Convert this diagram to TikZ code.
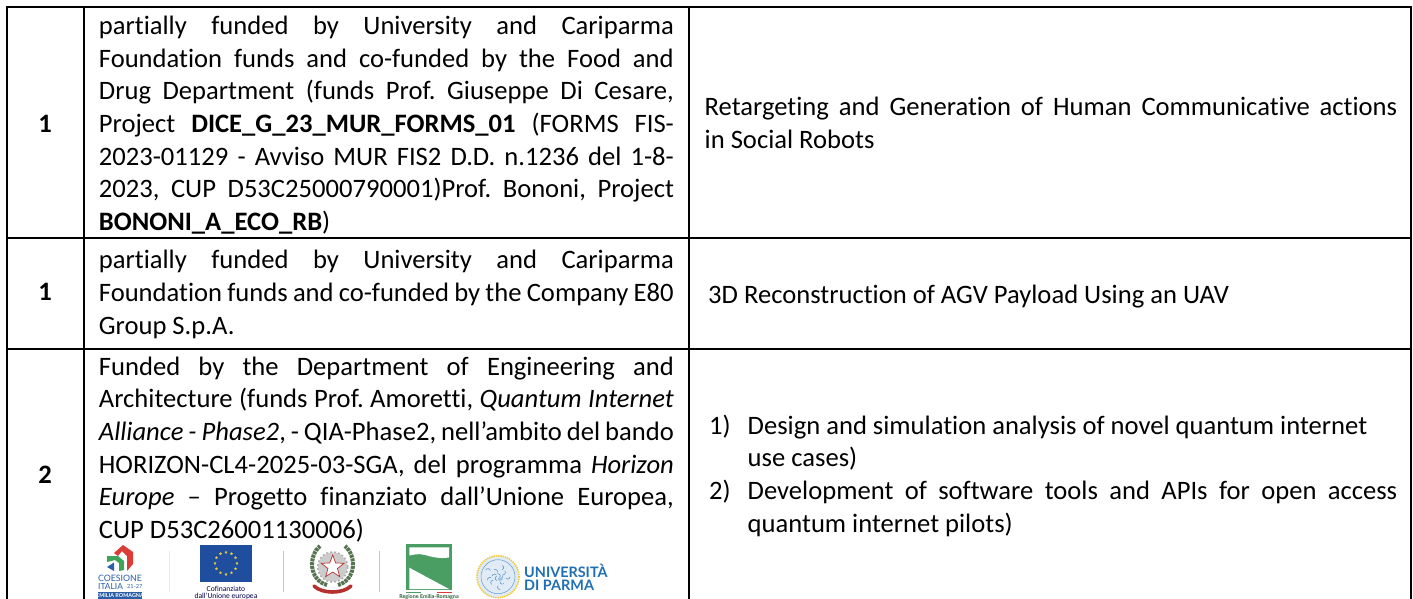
\documentclass[tikz,border=0pt]{standalone}
\usepackage{fontspec}
\usetikzlibrary{shapes.geometric}
\setmainfont[Ligatures={NoCommon,TeX}]{Carlito}
\newfontfamily\logofont{Lato}
\frenchspacing
\newcommand\jl[1]{\hbox to \linewidth{#1}}
\newcommand\nl[1]{\hbox{#1}}
\definecolor{eublue}{HTML}{1F4E9E}
\definecolor{eustar}{HTML}{F2D33A}
\definecolor{rer}{HTML}{4A9D63}
\definecolor{upblue}{HTML}{1F6FB5}
\definecolor{cored}{HTML}{DD3B35}
\definecolor{cogreen}{HTML}{3FA35A}
\definecolor{coblue}{HTML}{2A5FA8}
\definecolor{sepgrey}{HTML}{C4C4C4}
\definecolor{wreath}{HTML}{55734F}
\definecolor{ribbon}{HTML}{B5312E}
\tikzset{
  grid/.style={line width=2pt,black,line cap=rect},
  body/.style={anchor=base west,inner sep=0pt,font=\fontsize{26.6}{32.7}\selectfont},
  num/.style={anchor=base,inner sep=0pt,font=\fontsize{26.6}{32.7}\selectfont\bfseries},
  sep/.style={line width=0.9pt,sepgrey},
  tiny/.style={inner sep=0pt,anchor=base,font=\fontsize{7.6}{8}\selectfont},
  eustarnode/.style={star,star points=5,star point ratio=2.4,fill=eustar,inner sep=0pt,minimum size=3.4pt},
  univ/.style={anchor=base west,inner sep=0pt,text=upblue,font=\fontsize{14.4}{16}\logofont\bfseries}
}
\begin{document}
\begin{tikzpicture}[x=1pt,y=-1pt]
\useasboundingbox (0,0) rectangle (1413,599);
\fill[white] (0,0) rectangle (1413,599);
\begin{scope}
\clip (0,0) rectangle (1413,599);
% grid
\draw[grid] (6.7,599.5) -- (6.7,7.5) -- (1411,7.5) -- (1411,599.5);
\draw[grid] (84,7.5) -- (84,599.5);
\draw[grid] (689,7.5) -- (689,599.5);
\draw[grid] (6.7,237.7) -- (1411,237.7);
\draw[grid] (6.7,348.7) -- (1411,348.7);
% first column
\node[num] (n1) at (45,132) {1};
\node[num] (n2) at (45,300.5) {1};
\node[num] (n3) at (45,483) {2};
% second column
\node[body] (c1) at (98.7,34.5) {\parbox[t]{575pt}{%
\jl{partially funded by University and Cariparma}
\jl{Foundation funds and co-funded by the Food and}
\jl{Drug Department (funds Prof. Giuseppe Di Cesare,}
\jl{Project \textbf{DICE\_G\_23\_MUR\_FORMS\_01} (FORMS FIS-}
\jl{2023-01129 - Avviso MUR FIS2 D.D. n.1236 del 1-8-}
\jl{2023, CUP D53C25000790001)Prof. Bononi, Project}
\nl{\textbf{BONONI\_A\_ECO\_RB})}}};
\node[body] (c2) at (98.7,268.7) {\parbox[t]{575pt}{%
\jl{partially funded by University and Cariparma}
\jl{Foundation funds and co-funded by the Company E80}
\nl{Group S.p.A.}}};
\node[body] (c3) at (98.7,375) {\parbox[t]{575pt}{%
\jl{Funded by the Department of Engineering and}
\jl{Architecture (funds Prof. Amoretti, \textit{Quantum Internet}}
\jl{\textit{Alliance - Phase2}, - QIA-Phase2, nell’ambito del bando}
\jl{HORIZON-CL4-2025-03-SGA, del programma \textit{Horizon}}
\jl{\textit{Europe} – Progetto finanziato dall’Unione Europea,}
\nl{CUP D53C26001130006)}}};
% third column
\node[body] (d1) at (704.5,116) {\parbox[t]{692.5pt}{%
\jl{Retargeting and Generation of Human Communicative actions}
\nl{in Social Robots}}};
\node[body] (d2) at (708,303) {3D Reconstruction of AGV Payload Using an UAV};
\node[body] (e1) at (709,434) {1)};
\node[body] (e2) at (709,499) {2)};
\node[body] (d3) at (747.5,434) {\parbox[t]{649.5pt}{%
\nl{Design and simulation analysis of novel quantum internet}
\nl{use cases)}
\jl{Development of software tools and APIs for open access}
\nl{quantum internet pilots)}}};
% Coesione logo
\fill[cored] (114,553) -- (123,545) -- (133,552) -- (133,564) -- (127,571) -- (127,556) -- (122,551) -- (118,556) -- cycle;
\fill[cogreen] (107,556) -- (118,556) -- (124,561) -- (124,570) -- (119,571) -- (119,563) -- (115,560) -- (107,562) -- cycle;
\fill[coblue] (107,567) -- (114,562.5) -- (114,571) -- cycle;
\node[inner sep=0pt,anchor=base,text=coblue,font=\fontsize{8.8}{10}\logofont] (coes) at (120,581.7) {COESIONE};
\node[inner sep=0pt,anchor=base west,text=coblue,font=\fontsize{8.4}{10}\logofont] (ital) at (98,589.2) {ITALIA};
\node[inner sep=0pt,anchor=base west,text=coblue,font=\fontsize{5.6}{6}\logofont] (anni) at (127,588.5) {21-27};
\fill[coblue] (98,592) rectangle (142,599);
\node[inner sep=0pt,anchor=base,text=white,font=\fontsize{5.4}{6}\logofont\bfseries] (band) at (120,597.6) {EMILIA ROMAGNA};
\draw[line width=0.7pt,black!8] (169,551) -- (169,592);
% EU flag
\fill[eublue] (200,545) rectangle (252.3,581.7);
\foreach \a in {0,30,...,330}{
  \node[eustarnode] at ({226+11*cos(\a)},{563.3+11*sin(\a)}) {};
}
\node[tiny,text=black!70!blue] (cof) at (226,591) {Cofinanziato};
\node[tiny,text=black!70!blue] (dal) at (226,598.6) {dall’Unione europea};
\draw[sep] (283,551) -- (283,592);
% Emblem
\fill[black!20] (332.7,567) circle (14.5);
\draw[black!32,line width=1.4pt,dash pattern=on 2pt off 2pt] (332.7,567) circle (15);
\draw[line width=4pt,wreath,dash pattern=on 3pt off 0.8pt] (327,585) .. controls (309,580) and (308,556) .. (320,546);
\draw[line width=4pt,wreath,dash pattern=on 3pt off 0.8pt] (338,585) .. controls (356,580) and (357,556) .. (345,546);
\node[star,star points=5,star point ratio=2.4,fill=white,draw=ribbon,line width=0.7pt,inner sep=0pt,minimum size=24pt] (estar) at (332.7,567) {};
\draw[line width=3.6pt,ribbon,line cap=round] (314,586) .. controls (322,594) and (343,594) .. (351,586);
\draw[sep] (379,551) -- (379,592);
% Emilia-Romagna logo
\fill[rer] (406,544) rectangle (451.7,590);
\fill[white] (409.3,547.3) -- (449,547.3) -- (449,557.5) .. controls (440,559) and (432,557) .. (425,555) .. controls (418,553) and (413,555) .. (409.3,555.5) -- cycle;
\fill[white] (409.3,567.7) -- (449,589) -- (409.3,589) -- cycle;
\fill[rer] (406,591.5) rectangle (421,592.5);
\fill[cored] (436.5,591.5) rectangle (451.7,592.5);
\node[inner sep=0pt,anchor=base,text=rer!60!black,font=\fontsize{5.4}{6}\logofont\bfseries] (rern) at (429,598) {Regione Emilia-Romagna};
% Universita di Parma logo
\fill[upblue!14] (498,576.7) circle (21);
\draw[line width=1.6pt,eustar!90!orange,dash pattern=on 1.4pt off 0.9pt] (498,576.7) circle (21);
\draw[line width=0.5pt,upblue!70] (498,576.7) circle (17);
\foreach \a/\r in {0/12,25/5,50/9,80/13,105/4,130/10,160/11,185/6,210/14,240/8,265/3,290/12,320/9,345/5}{
  \draw[line width=0.6pt,upblue!70] (498,576.7) ++(\a:\r) arc[start angle=\a,delta angle=140,radius=2.4];
}
\node[univ] (uni) at (524,577) {UNIVERSITÀ};
\node[univ] (par) at (524,590.7) {DI PARMA};
\end{scope}
\end{tikzpicture}
\end{document}
